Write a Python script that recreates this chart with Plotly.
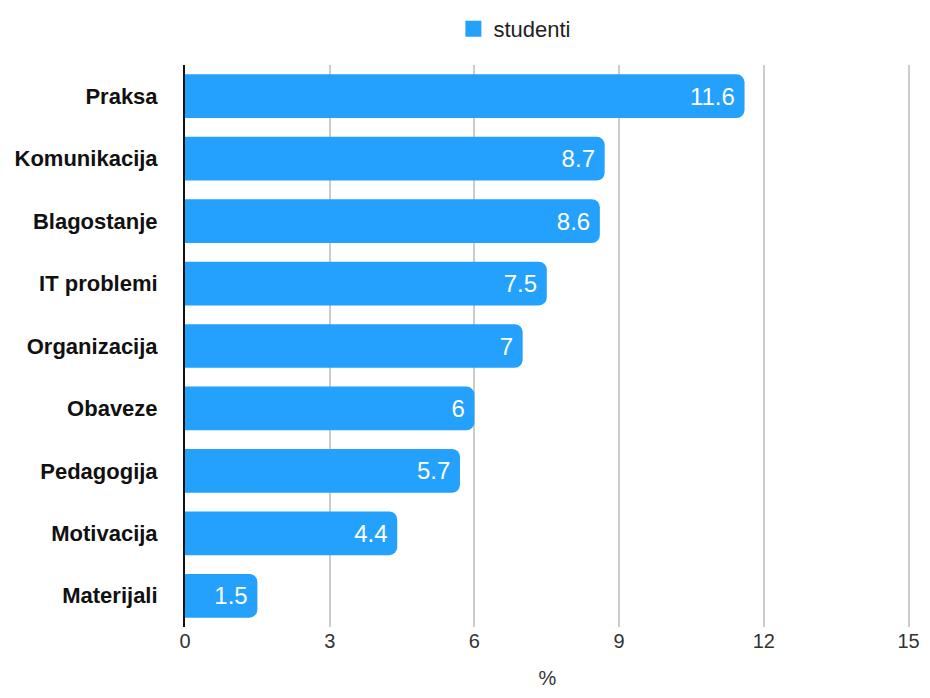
import plotly.graph_objects as go

categories = ["Praksa", "Komunikacija", "Blagostanje", "IT problemi", "Organizacija",
              "Obaveze", "Pedagogija", "Motivacija", "Materijali"]
values = [11.6, 8.7, 8.6, 7.5, 7, 6, 5.7, 4.4, 1.5]
series_name = "studenti"
tick_vals = [0, 3, 6, 9, 12, 15]
bar_color = "#24a0fd"

fig = go.Figure()
fig.add_trace(go.Bar(
    x=values, y=categories, orientation="h", name=series_name,
    marker=dict(color=bar_color, cornerradius=8, line=dict(width=0)),
    text=[f"{v:g}\u00a0" for v in values], textposition="inside", insidetextanchor="end",
    textfont=dict(color="white", size=24, family="Liberation Sans"),
    showlegend=False, cliponaxis=False,
))
# legend entry
fig.add_trace(go.Scatter(
    x=[None], y=[None], mode="markers", name=series_name,
    marker=dict(symbol="square", size=22, color=bar_color),
    showlegend=True,
))

fig.update_layout(
    width=914, height=682,
    margin=dict(l=177, r=12, t=57, b=63),
    plot_bgcolor="white", paper_bgcolor="white",
    font=dict(family="Liberation Sans", size=20, color="#333"),
    bargap=0.3,
    showlegend=True,
    legend=dict(orientation="h", x=0.455, xanchor="center", y=1.0, yanchor="top",
                yref="container", font=dict(size=22, color="#222"),
                itemsizing="trace"),
    xaxis=dict(range=[0, 15.03], tickvals=tick_vals, showgrid=True, gridcolor="#cccccc",
               gridwidth=1.5, zeroline=False, showline=False, automargin=False,
               ticklabeloverflow="allow",
               tickfont=dict(size=20, color="#333"),
               title=dict(text="%", font=dict(size=20, color="#333"), standoff=19)),
    yaxis=dict(autorange="reversed", showline=True, linecolor="#111", linewidth=2,
               ticks="", ticklabelstandoff=21, automargin=False,
               tickfont=dict(size=22, color="#111", family="Liberation Sans"),
               tickprefix="<b>", ticksuffix="</b>",
               showgrid=False),
)

fig.write_html("out.html")
